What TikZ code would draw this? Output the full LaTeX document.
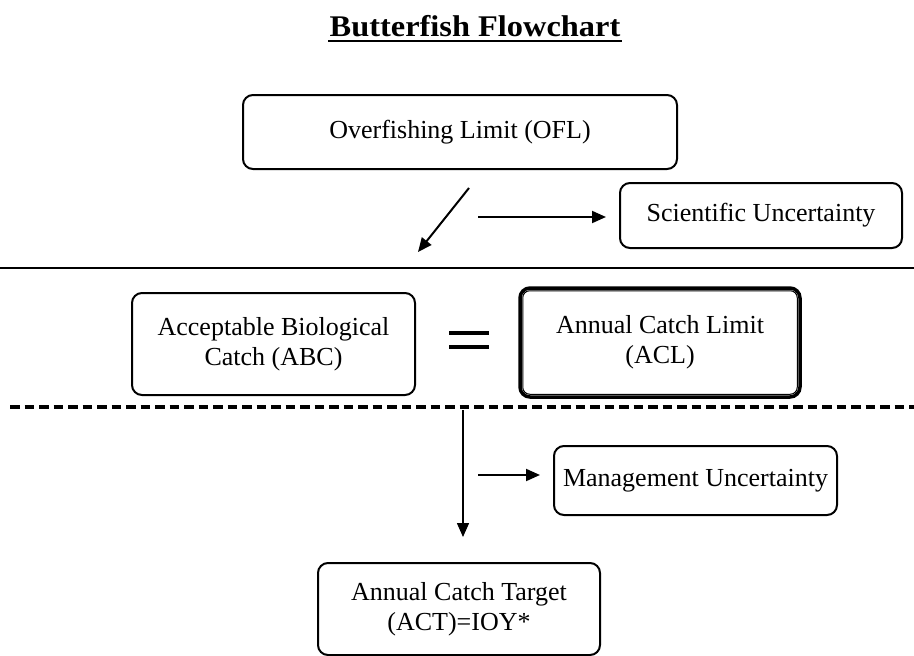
\documentclass[tikz,border=0pt]{standalone}
\usepackage{fontspec}
\setmainfont{Liberation Serif}
\usetikzlibrary{arrows.meta}
\begin{document}
\begin{tikzpicture}[x=1pt,y=-1pt,
  box/.style={draw=black,line width=2pt,rounded corners=10pt,align=center,
    inner sep=0pt,font=\fontsize{26}{30}\selectfont},
  arr/.style={line width=2pt,-{Triangle[length=14pt,width=12pt]}},
  thinarr/.style={line width=1.5pt,-{Triangle[length=14pt,width=12pt]}},
  sep/.style={line width=2.5pt},
  dashsep/.style={line width=4pt,dash pattern=on 9.5pt off 5pt}]
\useasboundingbox (0,0) rectangle (914,656);

% title
\node[font=\fontsize{30}{32}\selectfont\bfseries,xscale=1.08,anchor=base] (title) at (475,36) {Butterfish Flowchart};
\draw[line width=2.5pt] (328,41) -- (622,41);

% boxes
\node[box,minimum width=434pt,minimum height=74pt] (ofl) at (460,132) {Overfishing Limit (OFL)};
\node[box,minimum width=282pt,minimum height=65pt] (su) at (761,215.5) {Scientific Uncertainty};
\node[box,minimum width=283pt,minimum height=102pt] (abc) at (273.5,344) {Acceptable Biological\\Catch (ABC)};
\node[box,line width=3.5pt,minimum width=280pt,minimum height=109pt] (acl) at (660,342.5) {Annual Catch Limit\\(ACL)};
\draw[line width=1pt,rounded corners=7pt] ([xshift=4.5pt,yshift=-4.5pt]acl.north west) rectangle ([xshift=-4.5pt,yshift=4.5pt]acl.south east);
\node[box,minimum width=283pt,minimum height=69pt] (mu) at (695.5,480.5) {Management Uncertainty};
\node[box,minimum width=282pt,minimum height=92pt] (act) at (459,609) {Annual Catch Target\\(ACT)=IOY*};

% equals sign
\draw[line width=4pt] (449,333) -- (489,333);
\draw[line width=4pt] (449,347) -- (489,347);

% separators
\draw[sep] (0,268) -- (914,268);
\draw[dashsep] (10,407) -- (914,407);

% connectors
\coordinate (d1) at (469,188);
\coordinate (d2) at (418,252);
\draw[arr] (d1) -- (d2);
\coordinate (s1) at (478,217);
\draw[arr] (s1) -- ([xshift=-13pt]su.west |- s1);
\coordinate (v1) at (463,410);
\coordinate (v2) at (463,537);
\draw[thinarr] (v1) -- (v2);
\coordinate (m1) at (478,475);
\draw[arr] (m1) -- ([xshift=-13pt]mu.west |- m1);
\end{tikzpicture}
\end{document}
